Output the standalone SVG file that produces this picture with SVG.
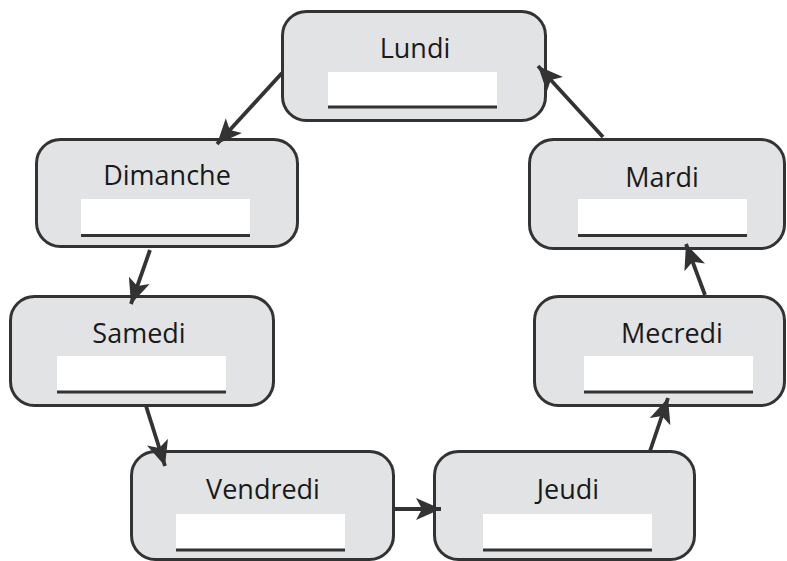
<svg xmlns="http://www.w3.org/2000/svg" width="787" height="561" viewBox="0 0 787 561">
<defs>
<style>
.box{fill:#e2e3e5;stroke:#333;stroke-width:3}
.field{fill:#fff}
.ul{stroke:#333;stroke-width:3}
.lbl{font-family:"Open Sans","Noto Sans",sans-serif;font-size:27px;fill:#1a1a1a;text-anchor:middle}
.conn{stroke:#333;stroke-width:3.8;fill:none;marker-end:url(#ah)}
</style>
<marker id="ah" markerUnits="userSpaceOnUse" markerWidth="28" markerHeight="24" refX="25" refY="11" orient="auto">
<path d="M0,0 L25,11 L0,22 L6,11 z" fill="#333"/>
</marker>
</defs>
<rect width="787" height="561" fill="#fff"/>
<g id="lundi">
<rect class="box" x="282.5" y="11.5" width="263" height="109" rx="24"/>
<rect class="field" x="328" y="72" width="169" height="36"/>
<line class="ul" x1="328" y1="107" x2="497" y2="107"/>
<text class="lbl" x="415" y="58">Lundi</text>
</g>
<g id="dimanche">
<rect class="box" x="36.5" y="139.5" width="261" height="107" rx="24"/>
<rect class="field" x="81" y="199" width="169" height="37"/>
<line class="ul" x1="81" y1="235.5" x2="250" y2="235.5"/>
<text class="lbl" x="167" y="185">Dimanche</text>
</g>
<g id="samedi">
<rect class="box" x="10.5" y="296.5" width="263" height="109" rx="24"/>
<rect class="field" x="57" y="356" width="169" height="37"/>
<line class="ul" x1="57" y1="392" x2="226" y2="392"/>
<text class="lbl" x="139" y="343">Samedi</text>
</g>
<g id="vendredi">
<rect class="box" x="131.5" y="451.5" width="262" height="108" rx="24"/>
<rect class="field" x="176" y="514" width="169" height="37"/>
<line class="ul" x1="176" y1="550" x2="345" y2="550"/>
<text class="lbl" x="263" y="499">Vendredi</text>
</g>
<g id="jeudi">
<rect class="box" x="434.5" y="451.5" width="260" height="108" rx="24"/>
<rect class="field" x="483" y="514" width="169" height="37"/>
<line class="ul" x1="483" y1="550" x2="652" y2="550"/>
<text class="lbl" x="568" y="499">Jeudi</text>
</g>
<g id="mecredi">
<rect class="box" x="534.5" y="296.5" width="250" height="109" rx="24"/>
<rect class="field" x="584" y="356" width="169" height="37"/>
<line class="ul" x1="584" y1="392" x2="753" y2="392"/>
<text class="lbl" x="672" y="343">Mecredi</text>
</g>
<g id="mardi">
<rect class="box" x="529.5" y="139.5" width="255" height="109" rx="24"/>
<rect class="field" x="578" y="199" width="169" height="37"/>
<line class="ul" x1="578" y1="235.5" x2="747" y2="235.5"/>
<text class="lbl" x="662" y="187">Mardi</text>
</g>
<g id="connectors">
<line class="conn" x1="282" y1="73" x2="217" y2="144"/>
<line class="conn" x1="150" y1="250" x2="131" y2="304"/>
<line class="conn" x1="146" y1="406" x2="165" y2="466"/>
<line class="conn" x1="395" y1="509" x2="441" y2="509"/>
<line class="conn" x1="650" y1="451" x2="668" y2="398"/>
<line class="conn" x1="705" y1="295" x2="686" y2="244"/>
<line class="conn" x1="603" y1="137" x2="538" y2="66"/>
</g>
</svg>
